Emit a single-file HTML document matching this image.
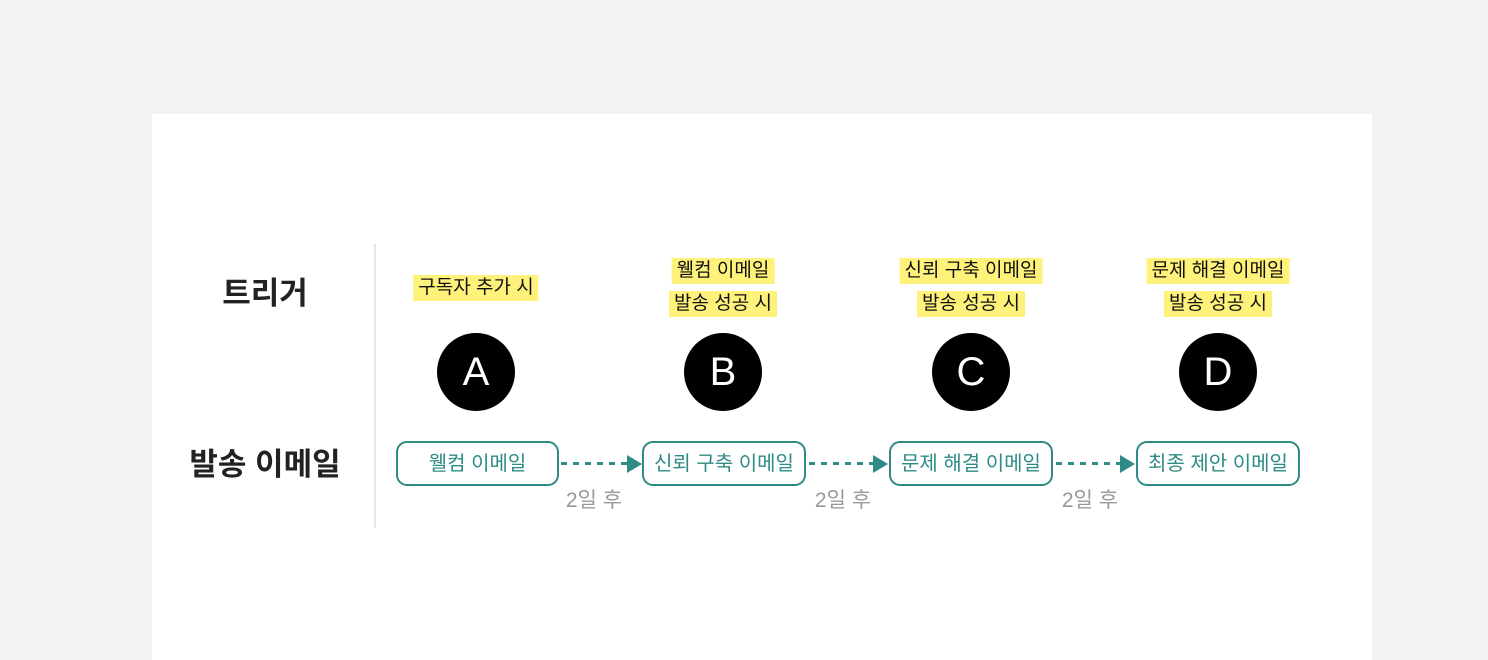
<!DOCTYPE html>
<html><head><meta charset="utf-8"><style>
body{margin:0;width:1488px;height:660px;background:#f2f2f2;position:relative;overflow:hidden;font-family:"Liberation Sans","Noto Sans CJK KR",sans-serif}
.card{position:absolute;left:152px;top:114px;width:1220px;height:546px;background:#fff}
.abs{position:absolute}
.hd{font-weight:bold;font-size:31px;color:#222;text-align:center;width:200px;line-height:36px}
.tag{position:absolute;background:#fff27a;font-size:19px;color:#111;line-height:26px;padding:0 5px;white-space:nowrap;transform:translateX(-50%)}
.circ{position:absolute;width:78px;height:78px;border-radius:50%;background:#000;color:#fff;font-size:40px;text-align:center;line-height:78px;top:333px}
.box{position:absolute;top:441px;height:41px;border:2px solid #2e8b85;border-radius:11px;color:#2e8b85;font-size:20px;text-align:center;line-height:43px;white-space:nowrap}
.dash{position:absolute;top:462px;height:3px;background:repeating-linear-gradient(90deg,#2e8b85 0 6px,transparent 6px 12px)}
.arr{position:absolute;top:455px;width:0;height:0;border-left:15px solid #2e8b85;border-top:9px solid transparent;border-bottom:9px solid transparent}
.lbl{position:absolute;top:484px;font-size:21px;color:#999;width:80px;text-align:center}
</style></head><body>
<div class="card"></div>
<div class="abs" style="left:374px;top:244px;width:2px;height:284px;background:#e6e6e6"></div>
<div class="abs hd" style="left:165px;top:276px">트리거</div>
<div class="abs hd" style="left:165px;top:447px">발송 이메일</div>

<div class="tag" style="left:476px;top:275px">구독자 추가 시</div>
<div class="tag" style="left:723px;top:258px">웰컴 이메일</div>
<div class="tag" style="left:723px;top:291px">발송 성공 시</div>
<div class="tag" style="left:971px;top:258px">신뢰 구축 이메일</div>
<div class="tag" style="left:971px;top:291px">발송 성공 시</div>
<div class="tag" style="left:1218px;top:258px">문제 해결 이메일</div>
<div class="tag" style="left:1218px;top:291px">발송 성공 시</div>

<div class="circ" style="left:437px">A</div>
<div class="circ" style="left:684px">B</div>
<div class="circ" style="left:932px">C</div>
<div class="circ" style="left:1179px">D</div>

<div class="box" style="left:396px;width:159px">웰컴 이메일</div>
<div class="box" style="left:642px;width:160px">신뢰 구축 이메일</div>
<div class="box" style="left:889px;width:160px">문제 해결 이메일</div>
<div class="box" style="left:1136px;width:160px">최종 제안 이메일</div>

<div class="dash" style="left:561px;width:66px"></div><div class="arr" style="left:627px"></div>
<div class="dash" style="left:809px;width:64px"></div><div class="arr" style="left:873px"></div>
<div class="dash" style="left:1056px;width:64px"></div><div class="arr" style="left:1120px"></div>

<div class="lbl" style="left:554px">2일 후</div>
<div class="lbl" style="left:803px">2일 후</div>
<div class="lbl" style="left:1050px">2일 후</div>
</body></html>
